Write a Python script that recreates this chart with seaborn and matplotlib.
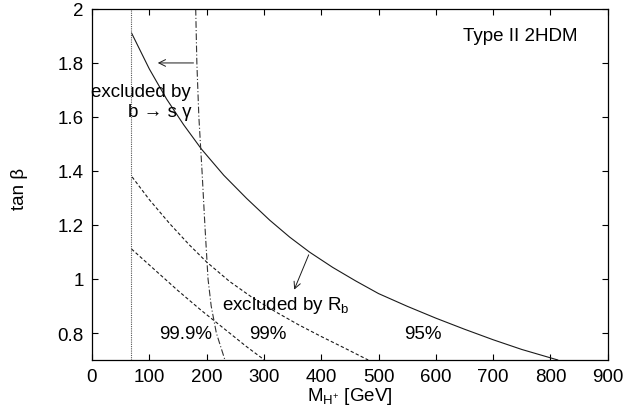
import matplotlib
matplotlib.use("Agg")
import matplotlib.pyplot as plt
import seaborn as sns

# R_b exclusion contours (M_H+ in GeV, tan beta)
rb95_mass = [69, 100, 130, 160, 191, 230, 270, 310, 345, 380, 420, 460, 500, 550,
             600, 650, 700, 750, 813]
rb95_tanb = [1.911, 1.778, 1.667, 1.571, 1.481, 1.384, 1.298, 1.218, 1.155, 1.099,
             1.043, 0.993, 0.946, 0.899, 0.855, 0.814, 0.775, 0.739, 0.70]

rb99_mass = [70, 100, 136, 170, 200, 240, 280, 320, 360, 400, 440, 482]
rb99_tanb = [1.378, 1.294, 1.204, 1.126, 1.063, 0.991, 0.931, 0.879, 0.831, 0.787, 0.745, 0.70]

rb999_mass = [69, 110, 150, 190, 230, 270, 301]
rb999_tanb = [1.111, 1.033, 0.957, 0.885, 0.817, 0.749, 0.70]

# b -> s gamma bound
bsg_mass = [181, 183, 186.5, 192, 197, 202.5, 208, 217, 232]
bsg_tanb = [2.0, 1.8, 1.6, 1.4, 1.2, 1.0, 0.9, 0.8, 0.7]

# direct search lower limit on M_H+
direct_limit = 68

x_ticks = [0, 100, 200, 300, 400, 500, 600, 700, 800, 900]
y_ticks = [0.8, 1.0, 1.2, 1.4, 1.6, 1.8, 2.0]
y_tick_labels = ["0.8", "1", "1.2", "1.4", "1.6", "1.8", "2"]

sns.set_theme(style="ticks")
plt.rcParams["font.family"] = ["Liberation Sans", "DejaVu Sans"]
plt.rcParams["mathtext.default"] = "regular"
plt.rcParams["text.color"] = "black"
plt.rcParams["axes.labelcolor"] = "black"

fig = plt.figure(figsize=(6.24, 4.14), dpi=100)
ax = fig.add_axes([0.1474, 0.128, 0.8266, 0.848])

lc = "#1a1a1a"
sns.lineplot(x=rb95_mass, y=rb95_tanb, sort=False, ax=ax, color=lc, lw=0.8, linestyle="-")
sns.lineplot(x=rb99_mass, y=rb99_tanb, sort=False, ax=ax, color=lc, lw=0.8, linestyle=(0, (3, 2)))
sns.lineplot(x=rb999_mass, y=rb999_tanb, sort=False, ax=ax, color=lc, lw=0.8, linestyle=(0, (3, 2)))
sns.lineplot(x=bsg_mass, y=bsg_tanb, sort=False, ax=ax, color="#333333", lw=0.8,
             linestyle=(0, (6, 2, 1, 2)))
ax.axvline(direct_limit, color="#555555", lw=0.8, linestyle=(0, (1, 1)))

ax.set_xlim(0, 900)
ax.set_ylim(0.7, 2.0)
ax.set_xticks(x_ticks)
ax.set_yticks(y_ticks)
ax.set_yticklabels(y_tick_labels)
fs = 13.5
ax.tick_params(direction="in", length=4, width=0.8, top=True, right=True,
               labelsize=fs, colors="black", pad=6)
for s in ax.spines.values():
    s.set_color("black")
    s.set_linewidth(0.9)

ax.set_xlabel(r"M$_{H^{+}}$ [GeV]", fontsize=fs, labelpad=0)
ax.set_ylabel(r"tan β", fontsize=fs)
ax.yaxis.set_label_coords(-0.124, 0.49)

ax.text(0.942, 0.923, "Type II 2HDM", transform=ax.transAxes, ha="right", va="center", fontsize=fs)
ax.text(85, 1.696, "excluded by", ha="center", va="center", fontsize=fs)
ax.text(119, 1.622, "b → s γ", ha="center", va="center", fontsize=fs)
ax.annotate("", xy=(110, 1.8), xytext=(182, 1.8),
            arrowprops=dict(arrowstyle="->", color=lc, lw=0.7))
ax.annotate("", xy=(351, 0.951), xytext=(380, 1.099),
            arrowprops=dict(arrowstyle="->", color=lc, lw=0.7))
ax.text(339, 0.905, r"excluded by R$_b$", ha="center", va="center", fontsize=fs)
ax.text(164, 0.798, "99.9%", ha="center", va="center", fontsize=fs)
ax.text(307, 0.798, "99%", ha="center", va="center", fontsize=fs)
ax.text(578, 0.798, "95%", ha="center", va="center", fontsize=fs)

fig.savefig("out.png", dpi=100)
